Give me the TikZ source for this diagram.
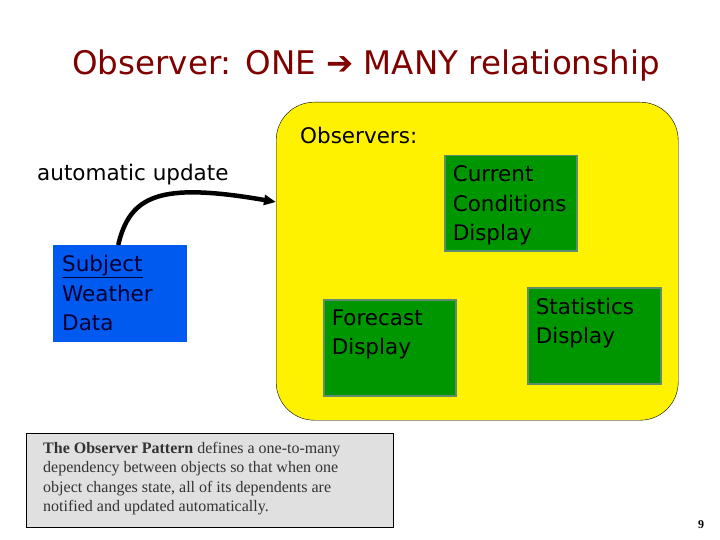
\documentclass[tikz,border=0pt]{standalone}
\usepackage{fontspec}
\setmainfont{DejaVu Sans}
\newfontfamily\notefont{Liberation Serif}
\usepackage{tikz}
\usetikzlibrary{
  arrows.meta,
  positioning,
  calc
}
\usepackage{xcolor}
\definecolor{titlered}{RGB}{128,0,0}
\definecolor{obsgreen}{RGB}{0,150,0}
\definecolor{obsedge}{RGB}{95,140,110}
\definecolor{subjblue}{RGB}{0,90,240}
\definecolor{notegray}{RGB}{224,224,224}
\newcommand{\boxtext}[3]{\parbox[t][#2][t]{#1}{#3}}

\begin{document}
\begin{tikzpicture}[
  x=1pt, y=-1pt,
  obsbox/.style={draw=obsedge, line width=1.5pt, fill=obsgreen, anchor=north west,
    inner xsep=8pt, inner ysep=10pt, font=\fontsize{21.5}{29.5}\selectfont},
  subjbox/.style={fill=subjblue, anchor=north west, inner xsep=9pt, inner ysep=10pt,
    font=\fontsize{21.5}{29.5}\selectfont},
  plain/.style={font=\fontsize{21.5}{29.5}\selectfont},
  arrow/.style={-{Triangle[length=12pt,width=10pt]}, line width=4.5pt}
]
  \useasboundingbox (0,0) rectangle (720,540);
  \fill[white] (0,0) rectangle (720,540);

  % Title
  \node[font=\fontsize{32.5}{38}\selectfont, text=titlered] (title) at (366,66)
    {Observer: ONE ➔ MANY relationship};

  % Observers area
  \node[draw, fill=yellow, rounded corners=38pt, anchor=north west,
    minimum width=402pt, minimum height=318pt] (area) at (276,102) {};
  \node[plain, anchor=north west, inner sep=0] (obslbl) at (300,127) {Observers:};

  \node[obsbox] (cur) at (444,155)
    {\boxtext{116pt}{75pt}{Current\\Conditions\\Display}};
  \node[obsbox] (fore) at (323,299)
    {\boxtext{116pt}{76pt}{Forecast\\Display}};
  \node[obsbox] (stat) at (527,287)
    {\boxtext{117pt}{76pt}{Statistics\\Display}};

  % Subject
  \node[subjbox] (subj) at (53,245)
    {\boxtext{116pt}{77pt}{\color[RGB]{0,0,50}\underline{Subject}\\Weather\\Data}};

  % Update arrow
  \node[plain, anchor=west, inner sep=0] (upd) at (37,175) {automatic update};
  \coordinate (hit) at (area.west |- 0,202);
  \draw[arrow] ([xshift=-2pt]subj.north) .. controls (130,195) and (160,182) .. (hit);

  % Definition note
  \node[draw, line width=1.2pt, fill=notegray, anchor=north west,
    minimum width=367pt, minimum height=94pt] (note) at (26,433) {};
  \node[anchor=north west, inner sep=0, text=black!80,
    font=\notefont\fontsize{16}{19.4}\selectfont, align=left] (notetxt) at (43,442)
    {\textbf{The Observer Pattern} defines a one-to-many\\
     dependency between objects so that when one\\
     object changes state, all of its dependents are\\
     notified and updated automatically.};

  % Page number
  \node[font=\notefont\bfseries\fontsize{12}{14}\selectfont] (pg) at (701,525) {9};
\end{tikzpicture}
\end{document}
